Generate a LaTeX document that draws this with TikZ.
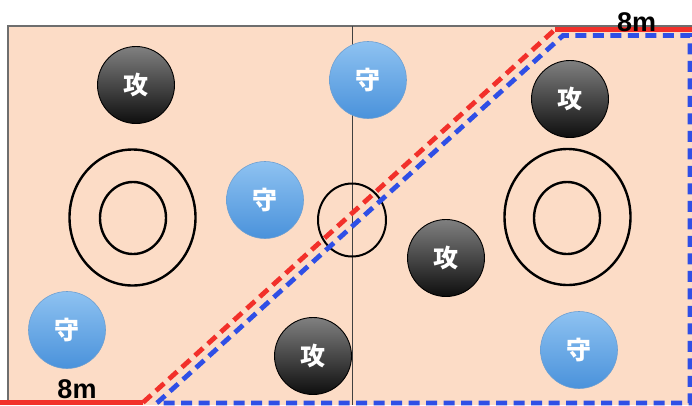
\documentclass[tikz,border=0pt]{standalone}
\usepackage{fontspec}
\setmainfont{Liberation Sans}
\newfontfamily\cjk{Noto Sans CJK JP}
\usetikzlibrary{calc}

\definecolor{court}{HTML}{FCDCC6}
\definecolor{courtline}{HTML}{6E6E6E}
\definecolor{zonered}{HTML}{F2302A}
\definecolor{zoneblue}{HTML}{2F4FE6}
\definecolor{atktop}{HTML}{808080}
\definecolor{atkbot}{HTML}{0E0E0E}
\definecolor{deftop}{HTML}{8EC2F1}
\definecolor{defbot}{HTML}{4A92DB}
\definecolor{defrim}{HTML}{6C9FD2}

\tikzset{
  attacker/.style={circle, minimum size=77pt, inner sep=0pt,
    top color=atktop, bottom color=atkbot, draw=black, line width=0.9pt,
    text=white, font=\cjk\bfseries\fontsize{25}{25}\selectfont},
  defender/.style={circle, minimum size=77pt, inner sep=0pt,
    top color=deftop, bottom color=defbot, draw=defrim, line width=0.6pt,
    text=white, font=\cjk\bfseries\fontsize{25}{25}\selectfont},
  ring/.style={draw=black, line width=2.4pt},
  redzone/.style={draw=zonered, line width=4.8pt},
  bluezone/.style={draw=zoneblue, line width=4.8pt, dash pattern=on 11pt off 6.5pt},
  distlabel/.style={font=\bfseries\fontsize{27}{27}\selectfont, text=black, inner sep=0pt}
}

\begin{document}
\begin{tikzpicture}[x=1pt, y=-1pt]
  \useasboundingbox (0,0) rectangle (692,405);
  \begin{scope}
    \clip (0,0) rectangle (692,405);

    % court surface and half-way line
    \fill[court] (8,26) rectangle (692,405);
    \draw[courtline, line width=1.2pt] (8,405) -- (8,26) -- (692,26);
    \draw[black!75, line width=0.9pt] (352,26) -- (352,405);

    % goal areas and centre circle
    \draw[ring] (132.5,217.5) ellipse [x radius=63, y radius=68];
    \draw[ring] (133,218) ellipse [x radius=33, y radius=36];
    \draw[ring] (567.5,217) ellipse [x radius=63, y radius=68];
    \draw[ring] (567,218) ellipse [x radius=33, y radius=36];
    \draw[ring, line width=2pt] (352,220) ellipse [x radius=34, y radius=36.5];

    % zone boundaries
    \coordinate (rA) at (0,402.5);
    \coordinate (rB) at (143,402.5);
    \coordinate (rC) at (555,29.5);
    \coordinate (rD) at (700,29.5);
    \coordinate (bA) at (157,403);
    \coordinate (bB) at (563,35.5);
    \coordinate (bC) at (690,35.5);
    \coordinate (bD) at (690,403);

    \draw[bluezone] (bA) -- (bB) -- (bC) -- (bD) -- cycle;
    \draw[redzone] (rA) -- (rB);
    \draw[redzone, dash pattern=on 11pt off 6.5pt] (rB) -- (rC);
    \draw[redzone] (rC) -- (rD);

    % players
    \node[attacker] (a1) at (136,85) {攻};
    \node[attacker] (a2) at (570,99) {攻};
    \node[attacker] (a3) at (446,258) {攻};
    \node[attacker] (a4) at (313,356) {攻};
    \node[defender] (d1) at (368,80) {守};
    \node[defender] (d2) at (265,200) {守};
    \node[defender] (d3) at (67,330) {守};
    \node[defender] (d4) at (579,350) {守};

    % distance labels
    \node[distlabel] (m1) at (636.5,22) {8m};
    \node[distlabel] (m2) at (77,389) {8m};
  \end{scope}
\end{tikzpicture}
\end{document}
